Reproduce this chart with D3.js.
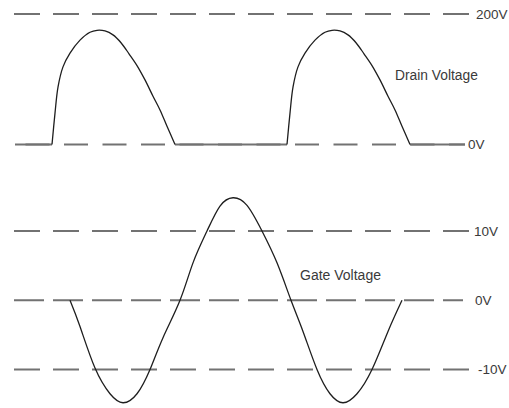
<!DOCTYPE html>
<html>
<head>
<meta charset="utf-8">
<script src="https://cdn.jsdelivr.net/npm/d3@7/dist/d3.min.js"></script>
<style>
  html, body { margin: 0; padding: 0; background: #fff; }
  svg { display: block; }
  text { font-family: "Liberation Sans", Arial, sans-serif; fill: #3a3a3a; }
</style>
</head>
<body>
<svg id="chart" width="509" height="408"></svg>
<script>
// ---- data (time in arbitrary units, voltage in V) ----
const drainTime = [1, 38, 41, 44, 49, 56, 66, 76, 83, 91, 99, 107, 115, 123, 131, 139, 146, 153, 161,
                   273, 276, 279, 284, 291, 301, 311, 318, 326, 334, 342, 350, 358, 366, 374, 381, 388, 396, 451];
const drainVolt = [0, 0, 48, 88, 119, 140, 160, 172, 175, 174, 168, 156, 139, 121, 99, 74, 53, 28, 0,
                   0, 48, 88, 119, 140, 160, 172, 175, 174, 168, 156, 139, 121, 99, 74, 53, 28, 0, 0];

const gateTime = [56, 66, 81, 96, 109, 123, 136, 149, 166, 179, 193, 206, 219, 233, 248, 263, 277, 289, 303, 316, 329, 343, 358, 374, 388];
const gateVolt = [0, -3.8, -9.8, -13.5, -14.8, -13.5, -10, -5.4, 0, 5.4, 10, 13.6, 14.8, 13.7, 10, 5.4, 0, -4.5, -10, -13.5, -14.8, -13.5, -10, -4.5, 0];

const drainLevels = [200, 0];
const drainLabels = ["200V", "0V"];
const gateLevels = [10, 0, -10];
const gateLabels = ["10V", "0V", "-10V"];

const drainTitle = "Drain Voltage";
const gateTitle = "Gate Voltage";

// ---- scales ----
const svg = d3.select("#chart");
const x = d3.scaleLinear().domain([0, 456]).range([14, 470]);
const yD = d3.scaleLinear().domain([0, 200]).range([144.5, 14]);
const yG = d3.scaleLinear().domain([-10, 10]).range([369.5, 231]);

const drain = drainTime.map((t, i) => ({ t, v: drainVolt[i] }));
const gate = gateTime.map((t, i) => ({ t, v: gateVolt[i] }));

const gray = "#727272";
const dark = "#1e1e1e";

// ---- reference levels (dashed) ----
const levelStyle = {
  drain: [
    { x0: 0, x1: 458, dash: "26 13", off: 0, labelX: 476 },
    { x0: 1, x1: 451, dash: "24 14.5", off: -10.5, labelX: 468 }
  ],
  gate: [
    { x0: 0, x1: 456, dash: "26 13", off: 0, labelX: 474 },
    { x0: 0, x1: 449, dash: "30 9", off: 0, labelX: 475 },
    { x0: 0, x1: 456, dash: "26 13", off: 0, labelX: 478 }
  ]
};

function drawLevels(levels, labels, yScale, styles) {
  const g = svg.append("g");
  levels.forEach((lv, i) => {
    const s = styles[i];
    g.append("line")
      .attr("x1", x(s.x0)).attr("x2", x(s.x1))
      .attr("y1", yScale(lv)).attr("y2", yScale(lv))
      .attr("stroke", gray).attr("stroke-width", 2.2)
      .attr("stroke-dasharray", s.dash)
      .attr("stroke-dashoffset", s.off);
    g.append("text")
      .attr("x", s.labelX).attr("y", yScale(lv))
      .attr("dy", "0.36em")
      .attr("font-size", 13.5)
      .text(labels[i]);
  });
}
drawLevels(drainLevels, drainLabels, yD, levelStyle.drain);
drawLevels(gateLevels, gateLabels, yG, levelStyle.gate);

// ---- drain waveform ----
// flat (0 V) parts drawn as solid gray baseline
const flatLine = d3.line()
  .defined(d => d.v === 0)
  .x(d => x(d.t)).y(d => yD(d.v));
svg.append("path").datum(drain)
  .attr("d", flatLine)
  .attr("fill", "none").attr("stroke", gray).attr("stroke-width", 2.2);

// humps drawn as thin dark curves
const drainCurve = d3.line().x(d => x(d.t)).y(d => yD(d.v)).curve(d3.curveCatmullRom.alpha(0.5));
const humps = [];
let cur = null;
drain.forEach((d, i) => {
  const prev = drain[i - 1];
  if (d.v === 0 && (!prev || prev.v === 0)) {
    // start of a possible new hump
    cur = [d];
    humps.push(cur);
  } else if (cur) {
    cur.push(d);
    if (d.v === 0) cur = null;
  }
});
humps.filter(h => h.length > 2).forEach(h => {
  svg.append("path").datum(h)
    .attr("d", drainCurve)
    .attr("fill", "none").attr("stroke", dark).attr("stroke-width", 1.3);
});

// ---- gate waveform ----
const gateLine = d3.line().x(d => x(d.t)).y(d => yG(d.v)).curve(d3.curveNatural);
svg.append("path").datum(gate)
  .attr("d", gateLine)
  .attr("fill", "none").attr("stroke", dark).attr("stroke-width", 1.3);

// ---- titles ----
svg.append("text").attr("x", 395).attr("y", 75).attr("dy", "0.36em")
  .attr("font-size", 13.8).text(drainTitle);
svg.append("text").attr("x", 300).attr("y", 275).attr("dy", "0.36em")
  .attr("font-size", 14).text(gateTitle);
</script>
</body>
</html>
